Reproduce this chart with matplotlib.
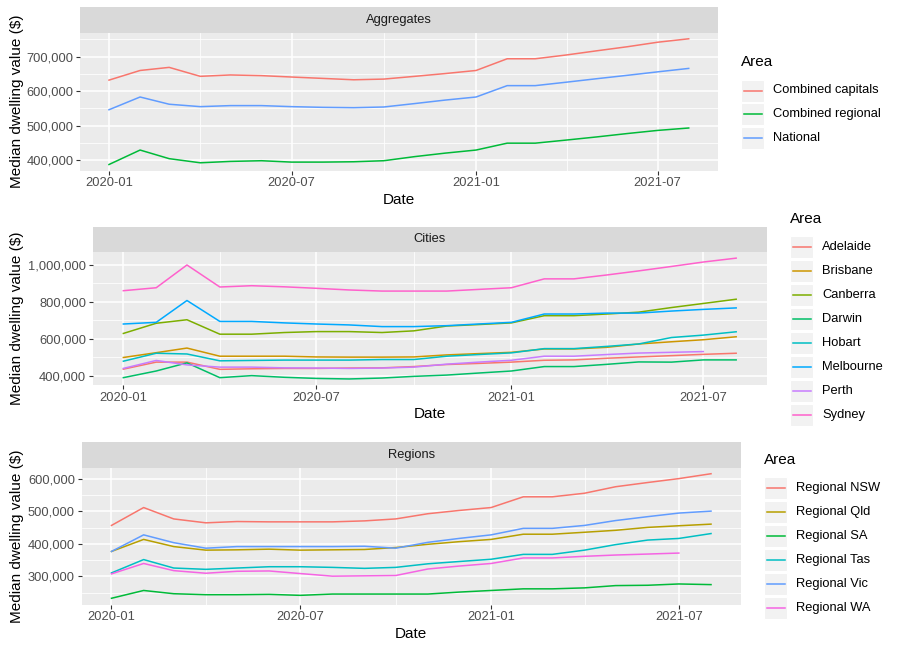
import numpy as np
import pandas as pd
import matplotlib
matplotlib.use('Agg')
import matplotlib.pyplot as plt
import matplotlib.dates as mdates
from matplotlib.ticker import FuncFormatter, MultipleLocator, FixedLocator
from matplotlib.patches import Rectangle
from matplotlib.lines import Line2D

plt.rcParams['font.family'] = ['Liberation Sans', 'DejaVu Sans']

# monthly observations, values in thousands of dollars
dates = pd.date_range('2020-01-01', periods=20, freq='MS')
nan = np.nan

# Aggregates
combined_capitals = [632, 660, 669, 643, 647, 645, 641, 637, 633, 635, 643, 651, 660, 694, 694, 705, 717, 729, 742, 752]
combined_regional = [387, 429, 404, 392, 396, 398, 394, 394, 395, 398, 410, 420, 429, 449, 449, 458, 467, 477, 486, 493]
national = [546, 583, 562, 555, 558, 558, 555, 553, 552, 554, 564, 574, 583, 616, 616, 626, 636, 646, 656, 666]

# Cities
adelaide = [437, 475, 475, 436, 439, 441, 441, 443, 444, 451, 462, 468, 475, 485, 487, 496, 503, 510, 517, 523]
brisbane = [500, 526, 551, 507, 507, 507, 503, 502, 502, 503, 514, 521, 528, 546, 546, 555, 573, 585, 596, 612]
canberra = [630, 685, 704, 626, 626, 635, 640, 640, 635, 644, 670, 678, 687, 726, 726, 735, 745, 770, 792, 815]
darwin = [391, 427, 471, 391, 402, 393, 387, 384, 389, 398, 405, 416, 427, 451, 451, 463, 476, 475, 487, 487]
hobart = [480, 523, 519, 482, 484, 486, 486, 486, 489, 489, 507, 516, 525, 548, 548, 560, 573, 608, 621, 639]
melbourne = [681, 690, 808, 695, 695, 687, 681, 676, 667, 667, 672, 681, 690, 735, 735, 740, 740, 751, 760, 768]
perth = [441, 484, 460, 448, 448, 444, 443, 441, 443, 448, 464, 475, 485, 507, 507, 516, 524, 528, 532, nan]
sydney = [861, 877, 1000, 881, 888, 882, 874, 865, 859, 859, 859, 868, 877, 925, 925, 946, 968, 992, 1016, 1037]

# Regions
regional_nsw = [457, 512, 477, 465, 469, 468, 468, 468, 471, 477, 493, 503, 512, 545, 545, 556, 576, 589, 601, 616]
regional_qld = [377, 414, 392, 381, 382, 384, 381, 382, 383, 389, 399, 407, 414, 430, 430, 436, 442, 451, 456, 461]
regional_sa = [233, 257, 247, 244, 244, 245, 242, 246, 246, 246, 246, 252, 257, 262, 262, 265, 272, 273, 277, 275]
regional_tas = [311, 352, 326, 322, 326, 330, 330, 328, 325, 328, 339, 346, 353, 368, 368, 381, 398, 412, 417, 432]
regional_vic = [377, 428, 404, 387, 392, 392, 392, 392, 393, 387, 405, 417, 428, 448, 448, 457, 472, 484, 495, 501]
regional_wa = [308, 340, 318, 310, 316, 317, 309, 301, 302, 303, 323, 332, 340, 357, 357, 362, 366, 369, 372, nan]

agg_names = ['Combined capitals', 'Combined regional', 'National']
city_names = ['Adelaide', 'Brisbane', 'Canberra', 'Darwin', 'Hobart', 'Melbourne', 'Perth', 'Sydney']
region_names = ['Regional NSW', 'Regional Qld', 'Regional SA', 'Regional Tas', 'Regional Vic', 'Regional WA']

agg_cols = ['#F8766D', '#00BA38', '#619CFF']
city_cols = ['#F8766D', '#CD9600', '#7CAE00', '#00BE67', '#00BFC4', '#00A9FF', '#C77CFF', '#FF61CC']
region_cols = ['#F8766D', '#B79F00', '#00BA38', '#00BFC4', '#619CFF', '#F564E3']

panels = [
    dict(title='Aggregates', names=agg_names, cols=agg_cols,
         data=[combined_capitals, combined_regional, national],
         box=(80, 32.5, 717.7, 170.8), step=100000,
         leg=(741, 62, 90.5, 23.8)),
    dict(title='Cities', names=city_names, cols=city_cols,
         data=[adelaide, brisbane, canberra, darwin, hobart, melbourne, perth, sydney],
         box=(92.7, 252.1, 766.8, 385.0), step=200000,
         leg=(790, 219, 246.7, 24)),
    dict(title='Regions', names=region_names, cols=region_cols,
         data=[regional_nsw, regional_qld, regional_sa, regional_tas, regional_vic, regional_wa],
         box=(81.5, 467.5, 741, 604.5), step=100000,
         leg=(764, 460, 487.7, 24)),
]

W, H = 900, 651
fig = plt.figure(figsize=(W / 100, H / 100), dpi=100)


def fx(x):
    return x / W


def fy(y):
    return 1 - y / H


def px_axes(l, t, r, b):
    return fig.add_axes([fx(l), fy(b), (r - l) / W, (b - t) / H])


major_dates = pd.to_datetime(['2020-01-01', '2020-07-01', '2021-01-01', '2021-07-01'])
major_num = mdates.date2num(major_dates)
minor_num = (major_num[:-1] + major_num[1:]) / 2

for p in panels:
    l, t, r, b = p['box']
    ax = px_axes(l, t, r, b)
    ax.set_facecolor('#EBEBEB')
    for s in ax.spines.values():
        s.set_visible(False)
    for vals, c in zip(p['data'], p['cols']):
        ax.plot(dates, np.array(vals, dtype=float) * 1000, color=c, lw=1.1)
    ax.margins(x=0.05, y=0.05)
    ax.xaxis.set_major_locator(FixedLocator(major_num))
    ax.xaxis.set_minor_locator(FixedLocator(minor_num))
    ax.xaxis.set_major_formatter(mdates.DateFormatter('%Y-%m'))
    ax.yaxis.set_major_locator(MultipleLocator(p['step']))
    ax.yaxis.set_minor_locator(MultipleLocator(p['step'] / 2))
    ax.yaxis.set_major_formatter(FuncFormatter(lambda v, pos: f'{v:,.0f}'))
    ax.grid(which='major', color='white', lw=1.1)
    ax.grid(which='minor', color='white', lw=0.55)
    ax.set_axisbelow(True)
    ax.tick_params(which='major', length=2.75, width=0.8, color='#333333',
                   labelsize=9.3, labelcolor='#4D4D4D', pad=2)
    ax.tick_params(which='minor', length=0)

    # facet strip
    sax = px_axes(l, t - 25.5, r, t)
    sax.set_facecolor('#D9D9D9')
    sax.set_xticks([])
    sax.set_yticks([])
    for s in sax.spines.values():
        s.set_visible(False)
    sax.text(0.5, 0.5, p['title'], ha='center', va='center', fontsize=9.3,
             color='#1A1A1A', transform=sax.transAxes)

    # axis titles
    fig.text(fx(17), fy((t + b) / 2), 'Median dwelling value ($)', rotation=90,
             ha='center', va='center', fontsize=11)
    fig.text(fx((l + r) / 2), fy(b + 29.5), 'Date', ha='center', va='center', fontsize=11)

    # legend
    lx, ty, cy0, dy = p['leg']
    fig.text(fx(lx), fy(ty), 'Area', ha='left', va='center', fontsize=11)
    for i, (name, c) in enumerate(zip(p['names'], p['cols'])):
        cy = cy0 + i * dy
        fig.patches.append(Rectangle((fx(lx), fy(cy + 11)), 23 / W, 22 / H,
                                     transform=fig.transFigure, facecolor='#F2F2F2',
                                     edgecolor='white', lw=0.8))
        fig.lines.append(Line2D([fx(lx + 2.5), fx(lx + 20.5)], [fy(cy), fy(cy)],
                                transform=fig.transFigure, color=c, lw=1.1))
        fig.text(fx(lx + 32), fy(cy), name, ha='left', va='center', fontsize=9.3)

fig.savefig('out.png', dpi=100)
